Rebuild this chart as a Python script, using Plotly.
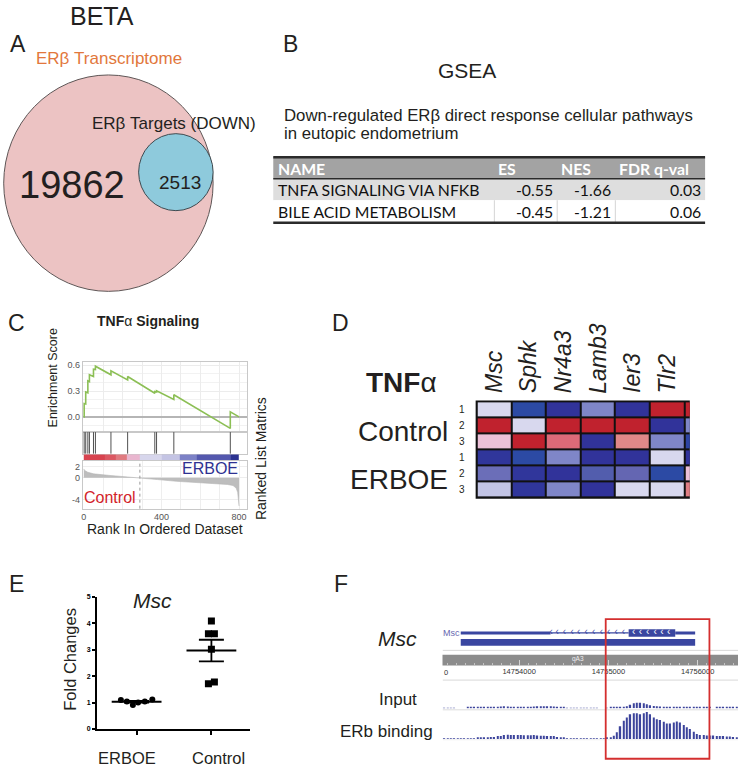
import numpy as np
import plotly.graph_objects as go

W, H = 738, 769
FONT = "Liberation Sans"
TFONT = "Lato"
INK = "#231f20"

# ---------------- DATA ----------------
# Panel A - BETA Venn
transcriptome_genes = 19862
down_targets = 2513

# Panel B - GSEA table
gsea_header = ["NAME", "ES", "NES", "FDR q-val"]
gsea_pathway = ["TNFA SIGNALING VIA NFKB", "BILE ACID METABOLISM"]
gsea_es = [-0.55, -0.45]
gsea_nes = [-1.66, -1.21]
gsea_fdr = [0.03, 0.06]

# Panel C - GSEA enrichment plot
es_rank = [0, 2, 2, 10, 10, 21, 21, 29, 29, 50, 50, 60, 60, 140, 140, 226, 226,
           366, 366, 375, 375, 464, 464, 755, 755, 800]
es_score = [0.0, 0.0, 0.155, 0.15, 0.29, 0.28, 0.42, 0.41, 0.49, 0.47, 0.555, 0.55,
            0.59, 0.49, 0.535, 0.43, 0.47, 0.275, 0.295, 0.29, 0.305, 0.204, 0.258,
            -0.134, 0.058, 0.0]
hit_rank = [2, 10, 21, 29, 50, 60, 140, 226, 366, 375, 464, 755]
metric_rank = [0, 5, 20, 50, 135, 200, 289, 380, 478, 649, 740, 769, 785, 793, 797, 800]
metric_value = [1.6, 1.3, 1.0, 0.7, 0.4, 0.22, 0.0, -0.35, -0.67, -1.0, -1.25, -1.45,
                -1.9, -2.7, -3.8, -5.2]
zero_cross_rank = 289
rank_bar_edges = [0, 109, 166, 221, 289, 401, 495, 581, 760, 800]
rank_bar_colors = ["#d8434f", "#db5862", "#e07a80", "#e9b6cf", "#d7d6ec",
                   "#c4c4e4", "#7c81c6", "#5458ae", "#2c3391"]
rank_ticks = [0, 400, 800]
es_ticks = [0.0, 0.3, 0.6]
metric_ticks = [2, 0, -4]

# Panel D - heatmap (last column is cropped in the original)
heat_genes = ["Msc", "Sphk", "Nr4a3", "Lamb3", "Ier3", "Tlr2", ""]
heat_groups = ["Control", "ERBOE"]
heat_reps = ["1", "2", "3", "1", "2", "3"]
heat_z = [
    [0.0, -2.2, -3.0, -1.2, -3.0, 3.0, 3.0],
    [3.0, 0.0, 3.0, 3.0, 3.0, -3.0, -1.2],
    [0.8, 3.0, 2.2, -3.0, 1.6, -1.2, -2.4],
    [-2.9, -2.2, -1.2, -3.0, -3.0, 0.0, -3.0],
    [-1.5, -2.9, -3.0, -1.8, -1.6, -2.2, 0.8],
    [-0.3, -2.9, -1.2, -3.0, 0.0, 0.0, 1.8],
]

# Panel E - qPCR fold changes
fc_groups = ["ERBOE", "Control"]
erboe_fold = [1.10, 1.04, 0.91, 1.00, 1.04, 1.12]
control_fold = [4.09, 3.60, 3.60, 3.02, 1.71, 1.78]
erboe_spread = [-0.21, -0.13, -0.05, 0.02, 0.11, 0.21]
control_spread = [0.0, -0.04, 0.04, 0.0, -0.04, 0.04]
fc_ticks = [0, 1, 2, 3, 4, 5]

# Panel F - genome browser
locus_ticks = [14754000, 14755000, 14756000]
locus_view = [14753145, 14756452]
tx_start, tx_end = 14753346, 14755972
tx1_intron = [14754352, 14755227]
tx1_cds = [14755227, 14755749]
strand_intron = [14754360, 14754427, 14754508, 14754594, 14754668, 14754751,
                 14754836, 14754922, 14755003, 14755086, 14755168]
strand_cds = [14755283, 14755358, 14755439, 14755525, 14755600, 14755674]
track_start = 14753145
track_bin = 37.2
input_signal = [0.5, 0.5, 0.5, 0.5, 0, 0, 0, 0.7, 0.7, 0.7,
                0.7, 0.7, 0.7, 1, 1, 1.3, 1.3, 1.7, 2, 1.7,
                1.3, 1.3, 1, 1, 1, 1, 1.3, 1.7, 2, 2,
                2, 2, 2, 1.7, 1.3, 1, 0.7, 0.5, 0.5, 0.5,
                0.5, 0.5, 0.5, 0.5, 0.5, 0.5, 0.5, 0, 0, 0.5,
                0.7, 0.7, 1, 1, 1.3, 2, 3.5, 5, 5.5, 5.5,
                5, 4, 3, 2.3, 2, 1.7, 1.3, 1, 1, 1,
                1, 1, 1, 1, 1, 0.7, 0.7, 0.7, 0.7, 0.7,
                0.7, 0, 0.7, 1, 1, 1, 1, 0.7, 0.7]
erb_signal = [0.7, 0.7, 0.7, 0.7, 0.7, 0.7, 0.7, 0.7, 0.7, 0.7,
              1, 1, 1.3, 1.7, 2, 2, 3, 3, 4, 4.3,
              4, 4, 4, 4, 3.7, 3.7, 3.7, 4, 3.5, 3.3,
              3.3, 3, 3, 3, 2, 1.5, 1.3, 0.7, 0.7, 0.7,
              0.7, 0.7, 0.7, 0.7, 0.7, 0.7, 0.7, 0.7, 0.7, 1,
              1.5, 3.3, 6.7, 12.7, 18.3, 21.7, 25, 26, 26, 25,
              26, 27.3, 25, 21.7, 20, 19, 17.3, 15.7, 15.7, 16.7,
              17.7, 16.7, 14, 11.7, 10, 7.3, 5, 4, 4, 3.5,
              3.5, 3.5, 3, 3, 3, 2.5, 2.5, 2, 1.5]
peak_region = [14754970, 14756132]


# ---------------- helpers ----------------
def X(p): return p / W
def Y(p): return 1 - p / H
def dx(a, b): return [a / W, b / W]
def dy(top, bottom): return [1 - bottom / H, 1 - top / H]


annotations, shapes = [], []


def label(s, x, y, size, color=INK, xanchor="center", yanchor="middle", angle=0,
          family=FONT, weight="normal", style="normal", xref="paper", yref="paper"):
    annotations.append(dict(
        text=s, showarrow=False, xanchor=xanchor, yanchor=yanchor, textangle=angle,
        x=X(x) if xref == "paper" else x, y=Y(y) if yref == "paper" else y,
        xref=xref, yref=yref, borderpad=0,
        font=dict(family=family, size=size, color=color, weight=weight, style=style)))


def rect(x0, y0, x1, y1, fill, line_color=None, lw=0, layer="above"):
    shapes.append(dict(type="rect", xref="paper", yref="paper", layer=layer,
                       x0=X(x0), x1=X(x1), y0=Y(y1), y1=Y(y0), fillcolor=fill,
                       line=dict(color=line_color or fill, width=lw)))


def seg(x0, y0, x1, y1, color, width, dash="solid"):
    shapes.append(dict(type="line", xref="paper", yref="paper",
                       x0=X(x0), x1=X(x1), y0=Y(y0), y1=Y(y1),
                       line=dict(color=color, width=width, dash=dash)))


fig = go.Figure()

# ---------------- Panel A ----------------
label("BETA", 100, 12, 25)
label("A", 16.5, 40.5, 23)
label("B", 289.5, 40.5, 23)
label("ERβ Transcriptome", 107, 55.5, 17, color="#e2773c")
VENN_PX_PER_SQRT = 0.745
STRETCH = 1.04
R = VENN_PX_PER_SQRT * np.sqrt(transcriptome_genes)
r = VENN_PX_PER_SQRT * np.sqrt(down_targets)
bcx, bcy = 106.7, 180.8
scx, scy = bcx + R - r, 169.7
shapes.append(dict(type="circle", xref="paper", yref="paper", x0=X(bcx - R), x1=X(bcx + R),
                   y0=Y(bcy + R * STRETCH), y1=Y(bcy - R * STRETCH),
                   fillcolor="#ecc3c3", line=dict(color="#5e5656", width=1)))
shapes.append(dict(type="circle", xref="paper", yref="paper", x0=X(scx - r), x1=X(scx + r),
                   y0=Y(scy + r * STRETCH), y1=Y(scy - r * STRETCH),
                   fillcolor="#8ecadc", line=dict(color="#3e4a50", width=1)))
label(f"{transcriptome_genes}", 70.5, 182.5, 38)
label(f"{down_targets}", 178, 180.5, 19)
label("ERβ Targets (DOWN)", 172.8, 121, 17)

# ---------------- Panel B ----------------
label("GSEA", 466, 67, 21)
label("Down-regulated ERβ direct response cellular pathways", 281.7, 112.5, 16.8, xanchor="left")
label("in eutopic endometrium", 281.7, 130.5, 16.8, xanchor="left")
col_w = [221.7, 63.0, 58.3, 90.0]
edges = [272.0]
for w in col_w:
    edges.append(edges[-1] + w)
row_edges = [154.7, 176.3, 198.0, 220.7]
rect(edges[0], row_edges[0], edges[-1], row_edges[1], "#a3a3a3")
rect(edges[0], row_edges[1], edges[-1], row_edges[2], "#dedede")
rect(edges[0], row_edges[2], edges[-1], row_edges[3], "#ffffff")
for e in edges[1:-1]:
    seg(e, row_edges[2], e, row_edges[3], "#d4d4d4", 1)
seg(edges[0], row_edges[0], edges[-1], row_edges[0], "#2b2b2b", 2.5)
seg(edges[0], row_edges[1], edges[-1], row_edges[1], "#2b2b2b", 1.5)
seg(edges[0], row_edges[3], edges[-1], row_edges[3], "#2b2b2b", 2.5)
TSIZE = 15.8
for j, h in enumerate(gsea_header):
    label(f"<b>{h}</b>", edges[j] + (4 if j == 0 else 3), (row_edges[0] + row_edges[1]) / 2 + 0.5,
          TSIZE, color="white", xanchor="left", family=TFONT)
for i in range(len(gsea_pathway)):
    yc = (row_edges[i + 1] + row_edges[i + 2]) / 2
    label(gsea_pathway[i], edges[0] + 4, yc, TSIZE, xanchor="left", family=TFONT, color="#111")
    for j, v in enumerate([gsea_es[i], gsea_nes[i], gsea_fdr[i]]):
        label(f"{v:.2f}", edges[j + 2] - 3, yc, TSIZE, xanchor="right", family=TFONT, color="#111")

# ---------------- Panel C ----------------
label("C", 15, 321.5, 23)
label("<b>TNF</b>α<b> Signaling</b>", 146, 320, 14)
label("Enrichment Score", 51.5, 377.5, 12.5, angle=-90)
label("Ranked List Matrics", 260, 459, 14, angle=-90)
label("Rank In Ordered Dataset", 163, 530, 14)
label("ERBOE", 237.3, 469, 16, color="#2e3192", xanchor="right")
label("Control", 81, 498.5, 16, color="#d2232a", xanchor="left")

fig.add_trace(go.Scatter(x=es_rank, y=es_score, mode="lines",
                         line=dict(color="#8cbf55", width=1.6), xaxis="x", yaxis="y",
                         hoverinfo="skip"))
hx, hy = [], []
for h in hit_rank:
    hx += [h, h, None]
    hy += [0, 1, None]
fig.add_trace(go.Scatter(x=hx, y=hy, mode="lines", line=dict(color="#505050", width=1),
                         xaxis="x2", yaxis="y2", hoverinfo="skip"))
nb = len(rank_bar_colors)
bar_scale = []
for i, c in enumerate(rank_bar_colors):
    bar_scale += [[i / nb, c], [(i + 1) / nb, c]]
fig.add_trace(go.Heatmap(x=rank_bar_edges, y=[0, 1], z=[list(range(nb))],
                         colorscale=bar_scale, zmin=-0.5, zmax=nb - 0.5, showscale=False,
                         xaxis="x3", yaxis="y3", hoverinfo="skip"))
fig.add_trace(go.Scatter(x=metric_rank, y=metric_value, mode="lines", fill="tozeroy",
                         fillcolor="#bdbdbd", line=dict(color="#b5b5b5", width=0.6),
                         xaxis="x4", yaxis="y4", hoverinfo="skip"))
shapes.append(dict(type="line", xref="x4", yref="y4 domain", x0=zero_cross_rank,
                   x1=zero_cross_rank, y0=0, y1=1,
                   line=dict(color="#9a9a9a", width=1, dash="dot")))

es_xrange = [(81 - 82) / 0.1946, (245.7 - 82) / 0.1946]
frame = dict(showline=True, mirror=True, linecolor="#c8c8c8", linewidth=1, zeroline=False)

# ---------------- Panel D ----------------
label("D", 339.5, 321.5, 23)
label("<b>TNF</b>α", 400.5, 382, 28)
label("Control", 448.3, 431, 28, xanchor="right")
label("ERBOE", 448.3, 480, 28, xanchor="right")
heat_scale = [[0.0, "#31339a"], [0.133, "#2c4aa4"], [0.233, "#6466b2"], [0.3, "#7f86c8"],
              [0.5, "#d8d8ee"], [0.633, "#ecc0d8"], [0.767, "#e08888"], [0.867, "#dd6a78"],
              [1.0, "#c0222e"]]
fig.add_trace(go.Heatmap(z=heat_z, x=list(range(len(heat_genes))), y=list(range(len(heat_reps))),
                         colorscale=heat_scale, zmin=-3, zmax=3, xgap=2, ygap=2,
                         showscale=False, xaxis="x5", yaxis="y5", hoverinfo="skip"))
shapes.append(dict(type="rect", xref="x5 domain", yref="y5 domain", x0=-0.005, x1=1,
                   y0=-0.01, y1=1.01, fillcolor="#111", line=dict(width=0), layer="below"))
for i, g in enumerate(heat_genes):
    if g:
        label(g, i, 394, 23, xref="x5", xanchor="center", yanchor="bottom",
              angle=-90, style="italic")
for i, rep in enumerate(heat_reps):
    label(rep, 461.7, i, 10, yref="y5")

# ---------------- Panel E ----------------
label("E", 15, 585, 23)
label("Msc", 151, 602, 21, style="italic")
label("Fold Changes", 68.3, 661.7, 16.5, angle=-90)
label(fc_groups[0], 0, 761, 16.5, xref="x6")
label(fc_groups[1], 1, 761, 16.5, xref="x6")
annotations[-2]["xshift"] = -10
annotations[-1]["xshift"] = 7
for gi, (vals, spread, sym, sz) in enumerate([(erboe_fold, erboe_spread, "circle", 6),
                                               (control_fold, control_spread, "square", 7)]):
    fig.add_trace(go.Scatter(x=[gi + s for s in spread], y=vals, mode="markers",
                             marker=dict(symbol=sym, size=sz, color="black"),
                             xaxis="x6", yaxis="y6", hoverinfo="skip"))
    m = float(np.mean(vals))
    sem = float(np.std(vals, ddof=1) / np.sqrt(len(vals)))
    fig.add_trace(go.Scatter(x=[gi - 0.333, gi + 0.333], y=[m, m], mode="lines",
                             line=dict(color="black", width=2), xaxis="x6", yaxis="y6",
                             hoverinfo="skip"))
    fig.add_trace(go.Scatter(x=[gi], y=[m], mode="markers",
                             marker=dict(size=1, color="rgba(0,0,0,0)"),
                             error_y=dict(type="data", array=[sem], visible=True, color="black",
                                          thickness=1.8, width=12.5),
                             xaxis="x6", yaxis="y6", hoverinfo="skip"))

# ---------------- Panel F ----------------
label("F", 339.5, 585, 23)
label("Msc", 396.7, 640, 21, style="italic")
label("Input", 397.5, 701.7, 17)
label("ERb binding", 433.3, 734.5, 17, xanchor="right")
label("Msc", 451, 634.5, 9, color="#6767b0")
label("0", 442.5, 674.3, 7.5, color="#333", xanchor="left")
label("qA3", 578, 661.5, 6.5, color="#eeeeee")
GENE = "#3a46a0"
rect(441.7, 656.7, 738, 667.7, "#8c8c8c", layer="below")
seg(442, 652.3, 738, 652.3, "#d8d8d8", 1)
seg(442, 682.3, 738, 682.3, "#d8d8d8", 1)
seg(442, 712.3, 738, 712.3, "#dcdcdc", 1)
seg(442, 742.5, 738, 742.5, "#eeeeee", 1)

fig.add_trace(go.Scatter(x=[tx_start, tx_end], y=[0.29, 0.29], mode="lines",
                         line=dict(color=GENE, width=6.7), xaxis="x7", yaxis="y7",
                         hoverinfo="skip"))
fig.add_trace(go.Scatter(x=[tx_start, tx1_intron[0], None, tx1_cds[1], tx_end],
                         y=[0.71, 0.71, None, 0.71, 0.71], mode="lines",
                         line=dict(color=GENE, width=3), xaxis="x7", yaxis="y7",
                         hoverinfo="skip"))
fig.add_trace(go.Scatter(x=tx1_intron, y=[0.71, 0.71], mode="lines",
                         line=dict(color=GENE, width=1.3), xaxis="x7", yaxis="y7",
                         hoverinfo="skip"))
fig.add_trace(go.Scatter(x=tx1_cds, y=[0.71, 0.71], mode="lines",
                         line=dict(color=GENE, width=7.5), xaxis="x7", yaxis="y7",
                         hoverinfo="skip"))
fig.add_trace(go.Scatter(x=strand_intron, y=[0.71] * len(strand_intron), mode="text",
                         text=["‹"] * len(strand_intron),
                         textfont=dict(size=10, color=GENE, family=FONT),
                         xaxis="x7", yaxis="y7", hoverinfo="skip"))
fig.add_trace(go.Scatter(x=strand_cds, y=[0.71] * len(strand_cds), mode="text",
                         text=["‹"] * len(strand_cds),
                         textfont=dict(size=10, color="white", family=FONT),
                         xaxis="x7", yaxis="y7", hoverinfo="skip"))
fig.add_trace(go.Scatter(x=[track_start], y=[0.5], mode="markers",
                         marker=dict(opacity=0), xaxis="x7", yaxis="y8", hoverinfo="skip"))
bin_centers = [track_start + track_bin * (i + 0.5) for i in range(len(erb_signal))]
TRACK = "#3c449c"
fig.add_trace(go.Bar(x=bin_centers, y=input_signal, width=15,
                     marker=dict(color=TRACK, line=dict(width=0)),
                     xaxis="x7", yaxis="y9", hoverinfo="skip"))
fig.add_trace(go.Bar(x=bin_centers, y=erb_signal, width=15,
                     marker=dict(color=TRACK, line=dict(width=0)),
                     xaxis="x7", yaxis="y10", hoverinfo="skip"))
shapes.append(dict(type="rect", xref="x7", yref="paper", x0=peak_region[0], x1=peak_region[1],
                   y0=Y(761.7), y1=Y(620.7), line=dict(color="#d42f2f", width=1.8),
                   fillcolor="rgba(0,0,0,0)"))

hidden = dict(visible=False, fixedrange=True)
fig.update_layout(
    width=W, height=H, autosize=False, margin=dict(l=0, r=0, t=0, b=0),
    paper_bgcolor="white", plot_bgcolor="rgba(0,0,0,0)", showlegend=False,
    font=dict(family=FONT, color=INK),
    xaxis=dict(domain=dx(81, 245.7), range=es_xrange, anchor="y", showgrid=True,
               gridcolor="#ececec", dtick=100, tick0=0, showticklabels=False, ticks="", **frame),
    yaxis=dict(domain=dy(361, 431.7), range=[-0.173, 0.642], anchor="x",
               tickvals=es_ticks, ticktext=[f"{v:.1f}" for v in es_ticks],
               tickfont=dict(size=9, color="#555"), showgrid=True, gridcolor="#ececec",
               minor=dict(dtick=0.1, tick0=0, showgrid=True, gridcolor="#f2f2f2"),
               ticks="", showline=True, mirror=True, linecolor="#c8c8c8", linewidth=1,
               zeroline=True, zerolinecolor="#b5b5b5", zerolinewidth=1.5),
    xaxis2=dict(domain=dx(81, 245.7), range=es_xrange, anchor="y2", showgrid=False,
                showticklabels=False, ticks="", **frame),
    yaxis2=dict(domain=dy(432, 454), range=[0, 1], anchor="x2", showgrid=False,
                showticklabels=False, ticks="", **frame),
    xaxis3=dict(domain=dx(81, 245.7), range=es_xrange, anchor="y3", **hidden),
    yaxis3=dict(domain=dy(454.5, 461), range=[0, 1], anchor="x3", **hidden),
    xaxis4=dict(domain=dx(81, 245.7), range=es_xrange, anchor="y4", tickvals=rank_ticks,
                tickfont=dict(size=9, color="#555"), showgrid=False, ticks="",
                minor=dict(dtick=100, tick0=0, showgrid=True, gridcolor="#eeeeee"), **frame),
    yaxis4=dict(domain=dy(461, 509.3), range=[-5.69, 3.09], anchor="x4", tickvals=metric_ticks,
                ticktext=[str(t) for t in metric_ticks],
                tickfont=dict(size=9, color="#555"), showgrid=True, gridcolor="#eeeeee",
                ticks="", **frame),
    xaxis5=dict(domain=dx(476, 689.7), range=[-0.5, 5.656], anchor="y5", **hidden),
    yaxis5=dict(domain=dy(401, 498.3), range=[5.5, -0.5], anchor="x5", **hidden),
    xaxis6=dict(domain=dx(95, 248.3), range=[-0.533, 1.511], anchor="y6", showline=True,
                linecolor="black", linewidth=1.5, ticks="outside", ticklen=4, tickwidth=1.5,
                tickcolor="black", tickvals=[0, 1], showticklabels=False, showgrid=False,
                zeroline=False),
    yaxis6=dict(domain=dy(598.3, 731.7), range=[0, 5], anchor="x6", showline=True,
                linecolor="black", linewidth=1.5, ticks="outside", ticklen=3, tickwidth=1.5,
                tickcolor="black", tickvals=fc_ticks,
                tickfont=dict(size=7, color="black", weight="bold"), showgrid=False,
                zeroline=False),
    xaxis7=dict(domain=dx(442, 738), range=locus_view, anchor="y8", tickvals=locus_ticks,
                ticktext=[str(t) for t in locus_ticks], tickfont=dict(size=7.5, color="#333"),
                ticks="inside", ticklen=6, tickcolor="#d4d4d4", tickwidth=1,
                minor=dict(dtick=100, tick0=0, ticks="inside", ticklen=2.5, tickcolor="#c4c4c4"),
                showline=False, showgrid=False, zeroline=False, fixedrange=True),
    yaxis7=dict(domain=dy(628, 651), range=[0, 1], anchor="x7", **hidden),
    yaxis8=dict(domain=dy(656.7, 667.7), range=[0, 1], anchor="x7", **hidden),
    yaxis9=dict(domain=dy(695, 710.7), range=[0, 15.7], anchor="x7", **hidden),
    yaxis10=dict(domain=dy(713.7, 741.7), range=[0, 28], anchor="x7", **hidden),
    annotations=annotations, shapes=shapes,
)

# the page's default 8px body margin would shift the whole figure; remove it
fig.write_html("out.html", config={"displayModeBar": False},
               post_script="document.body.style.margin='0';document.body.style.overflow='hidden';")
